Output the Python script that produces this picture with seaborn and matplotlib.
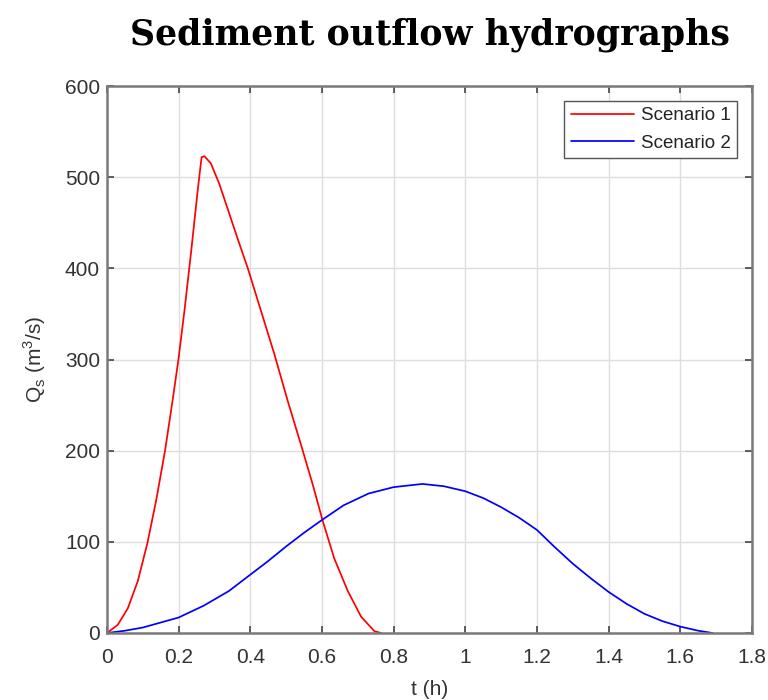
import numpy as np
import pandas as pd
import matplotlib
matplotlib.use("Agg")
import matplotlib.pyplot as plt
import seaborn as sns

# Sediment discharge time series (t in hours, Qs in m^3/s)
t_scenario1 = [0, 0.03, 0.058, 0.086, 0.113, 0.137, 0.162, 0.183, 0.199, 0.216,
               0.235, 0.253, 0.264, 0.272, 0.29, 0.313, 0.337, 0.365, 0.393, 0.43,
               0.467, 0.504, 0.541, 0.574, 0.602, 0.634, 0.672, 0.709, 0.746, 0.765]
qs_scenario1 = [0, 9, 27, 57, 99, 145, 200, 255, 299, 353,
                419, 485, 522, 523, 515, 493, 465, 432, 400, 353,
                306, 255, 207, 163, 123, 82, 46, 18, 2, 0]

t_scenario2 = [0, 0.05, 0.1, 0.2, 0.27, 0.34, 0.4, 0.45, 0.5, 0.55,
               0.6, 0.66, 0.73, 0.8, 0.88, 0.94, 1.0, 1.05, 1.1, 1.15,
               1.2, 1.25, 1.3, 1.35, 1.4, 1.45, 1.5, 1.55, 1.6, 1.65, 1.69]
qs_scenario2 = [0, 2.5, 6, 17, 30, 46, 64, 79, 95, 110,
                124, 140, 153, 160, 163.5, 161, 155.5, 148, 138, 126.5,
                113, 94, 76, 60, 45, 32, 21, 13, 7, 2.5, 0]

series_names = ["Scenario 1", "Scenario 2"]
series_colors = ["#ff0000", "#0000ff"]
x_ticks = [0, 0.2, 0.4, 0.6, 0.8, 1, 1.2, 1.4, 1.6, 1.8]
y_ticks = [0, 100, 200, 300, 400, 500, 600]

df = pd.concat([
    pd.DataFrame({"t": t_scenario1, "Qs": qs_scenario1, "series": series_names[0]}),
    pd.DataFrame({"t": t_scenario2, "Qs": qs_scenario2, "series": series_names[1]}),
], ignore_index=True)

sns.set_theme(style="whitegrid")
plt.rcParams["font.family"] = ["Liberation Sans", "DejaVu Sans"]

fig = plt.figure(figsize=(7.68, 7.0), dpi=100)
ax = fig.add_axes([107 / 768, 1 - 633 / 700, 645 / 768, 547 / 700])

sns.lineplot(data=df, x="t", y="Qs", hue="series", palette=series_colors,
             estimator=None, sort=False, linewidth=1.25,
             solid_joinstyle="round", solid_capstyle="round", ax=ax)

ax.set_xlim(0, 1.8)
ax.set_ylim(0, 600)
ax.set_xticks(x_ticks)
ax.set_xticklabels([f"{v:g}" for v in x_ticks])
ax.set_yticks(y_ticks)
ax.set_yticklabels([str(v) for v in y_ticks])

axis_grey = "#7a7a7a"
label_grey = "#333333"
ax.set_facecolor("white")
for side in ["left", "right", "top", "bottom"]:
    ax.spines[side].set_visible(True)
    ax.spines[side].set_color(axis_grey)
    ax.spines[side].set_linewidth(1.8)
ax.grid(True, color="#dedede", linewidth=1.0)
ax.tick_params(axis="both", direction="in", length=5, width=1.2, color="#444444",
               labelsize=15, labelcolor=label_grey, top=True, right=True,
               bottom=True, left=True)
ax.tick_params(axis="x", pad=11)
ax.tick_params(axis="y", pad=5)

ax.set_xlabel("t (h)", fontsize=15, color=label_grey, labelpad=9)
ax.set_ylabel(r"Q$_\mathregular{s}$ (m$^\mathregular{3}$/s)", fontsize=15,
              color=label_grey, labelpad=12)

leg = ax.legend(loc="upper right", fontsize=13.5, frameon=True, fancybox=False,
                edgecolor="#555555", framealpha=1, borderaxespad=0.8,
                handlelength=3.4, labelspacing=0.55, borderpad=0.33,
                handletextpad=0.35)
leg.get_frame().set_linewidth(1.0)
for text in leg.get_texts():
    text.set_color("#222222")

fig.text(0.56, 0.95, "Sediment outflow hydrographs", ha="center", va="center",
         fontsize=25, fontweight="bold", family="DejaVu Serif", color="black")

fig.savefig("out.png", dpi=100, facecolor="white")
